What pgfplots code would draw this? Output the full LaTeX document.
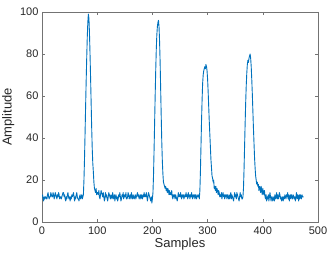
\documentclass[border=0pt]{standalone}
\usepackage{pgfplots}
\pgfplotsset{compat=1.18}
\usepackage{fontspec}
\setmainfont{Liberation Sans}
\definecolor{mblue}{rgb}{0,0.447,0.741}
\definecolor{mtext}{rgb}{0.15,0.15,0.15}
\begin{document}
\begin{tikzpicture}
\begin{axis}[
  scale only axis,
  width=276pt, height=210pt,
  xmin=0, xmax=500, ymin=0, ymax=100,
  xtick={0,100,...,500}, ytick={0,20,...,100},
  tick align=inside,
  major tick length=3pt,
  axis line style={black!55, line width=0.5pt},
  every tick/.style={black!55, line width=0.5pt},
  tick label style={font=\fontsize{11}{13}\selectfont, text=mtext},
  label style={font=\fontsize{13}{15}\selectfont, text=mtext},
  /pgf/number format/assume math mode=true,
  xlabel={Samples}, ylabel={Amplitude},
  xlabel style={yshift=3pt},
  ylabel style={yshift=-1pt},
  xticklabel style={yshift=-1pt},
  clip=true,
]
\addplot[mblue, line width=0.9pt, line join=round] coordinates {
(1,13)(2,11)(3,10)(4,12)(5,11)(6,12)(7,12)(8,11)(9,11)(10,13)
(11,14)(12,12)(13,11)(14,12)(15,12)(16,14)(17,13)(18,12)(19,12)(20,14)
(21,13)(22,11)(23,12)(24,14)(25,13)(26,12)(27,11)(28,13)(29,12)(30,14)
(31,13)(32,11)(33,12)(34,12)(35,11)(36,12)(37,13)(38,14)(39,14)(40,12)
(41,13)(42,11)(43,10)(44,12)(45,11)(46,13)(47,14)(48,12)(49,11)(50,12)
(51,10)(52,12)(53,11)(54,13)(55,12)(56,13)(57,14)(58,12)(59,10)(60,12)
(61,11)(62,13)(63,14)(64,12)(65,11)(66,11)(67,10)(68,12)(69,13)(70,11)
(71,12)(72,13)(73,11)(74,12)(75,13)
(76,20)(77,30)(78,42)(79,55)(80,67)(81,78)(82,88)(83,95)(84,99)(85,97)
(86,90)(87,80)(88,69)(89,57)(90,45)(91,35)(92,28)(93,24)(94,19)(95,16)
(96,15)(97,14)(98,16)(99,13)(100,14)
(101,14)(102,13)(103,15)(104,12)(105,11)(106,13)(107,15)(108,14)(109,13)(110,12)
(111,14)(112,12)(113,10)(114,11)(115,14)(116,12)(117,13)(118,11)(119,10)(120,12)
(121,14)(122,13)(123,12)(124,11)(125,13)(126,12)(127,11)(128,14)(129,12)(130,11)
(131,13)(132,10)(133,12)(134,13)(135,11)(136,12)(137,10)(138,11)(139,13)(140,12)
(141,14)(142,12)(143,10)(144,11)(145,13)(146,12)(147,14)(148,11)(149,13)(150,12)
(151,12)(152,14)(153,11)(154,11)(155,12)(156,14)(157,13)(158,11)(159,12)(160,13)
(161,11)(162,14)(163,12)(164,11)(165,13)(166,12)(167,11)(168,12)(169,13)(170,11)
(171,12)(172,13)(173,14)(174,12)(175,13)(176,11)(177,12)(178,13)(179,11)(180,13)
(181,12)(182,11)(183,13)(184,12)(185,14)(186,12)(187,13)(188,12)(189,14)(190,12)
(191,10)(192,12)(193,14)(194,13)(195,12)(196,11)(197,10)(198,12)(199,9)(200,11)
(201,14)(202,22)(203,34)(204,47)(205,60)(206,72)(207,82)(208,89)(209,93)(210,95)
(211,96)(212,93)(213,86)(214,76)(215,63)(216,50)(217,38)(218,29)(219,23)(220,19)
(221,18)(222,17)(223,16)(224,17)(225,15)(226,16)(227,14)(228,16)(229,15)(230,13)
(231,15)(232,13)(233,14)(234,13)(235,15)(236,12)(237,11)(238,13)(239,12)(240,13)
(241,11)(242,13)(243,12)(244,11)(245,10)(246,12)(247,14)(248,12)(249,13)(250,12)
(251,14)(252,12)(253,11)(254,13)(255,12)(256,13)(257,11)(258,12)(259,13)(260,12)
(261,14)(262,12)(263,13)(264,11)(265,14)(266,12)(267,13)(268,11)(269,13)(270,12)
(271,14)(272,12)(273,11)(274,13)(275,12)(276,13)(277,11)(278,13)(279,12)(280,11)
(281,13)(282,12)(283,12)(284,13)(285,11)
(286,15)(287,24)(288,36)(289,48)(290,58)(291,66)(292,70)(293,72)(294,73)(295,74)
(296,73)(297,75)(298,74)(299,72)(300,68)(301,62)(302,55)(303,48)(304,42)(305,36)
(306,30)(307,26)(308,22)(309,21)(310,19)(311,20)(312,16)(313,17)(314,15)(315,17)
(316,14)(317,16)(318,15)(319,13)(320,15)
(321,14)(322,12)(323,13)(324,12)(325,14)(326,11)(327,13)(328,14)(329,12)(330,13)
(331,11)(332,13)(333,12)(334,13)(335,11)(336,13)(337,12)(338,11)(339,13)(340,11)
(341,12)(342,14)(343,11)(344,13)(345,12)(346,11)(347,10)(348,12)(349,14)(350,12)
(351,13)(352,11)(353,14)(354,13)(355,12)(356,11)(357,10)(358,12)(359,14)(360,12)
(361,13)(362,11)(363,11)(364,12)
(365,16)(366,25)(367,36)(368,47)(369,57)(370,65)(371,71)(372,75)(373,77)(374,76)
(375,78)(376,79)(377,80)(378,78)(379,74)(380,68)(381,61)(382,53)(383,45)(384,38)
(385,31)(386,26)(387,22)(388,20)(389,18)(390,19)(391,17)(392,18)(393,15)(394,17)
(395,16)(396,14)(397,17)(398,15)(399,13)(400,16)
(401,14)(402,13)(403,15)(404,12)(405,11)(406,13)(407,10)(408,12)(409,11)(410,13)
(411,10)(412,12)(413,14)(414,12)(415,10)(416,12)(417,12)(418,10)(419,11)(420,12)
(421,10)(422,13)(423,11)(424,12)(425,14)(426,11)(427,13)(428,11)(429,12)(430,14)
(431,13)(432,11)(433,12)(434,10)(435,11)(436,12)(437,10)(438,12)(439,11)(440,13)
(441,12)(442,11)(443,13)(444,12)(445,14)(446,11)(447,13)(448,10)(449,12)(450,13)
(451,11)(452,13)(453,12)(454,11)(455,13)(456,12)(457,11)(458,12)(459,10)(460,12)
(461,14)(462,11)(463,13)(464,12)(465,10)(466,13)(467,11)(468,13)(469,12)(470,11)
(471,13)(472,12)(473,12)(474,12)
};
\coordinate (sw) at (rel axis cs:0,0);
\coordinate (ne) at (rel axis cs:1,1);
\end{axis}
\pgfresetboundingbox
\path ([shift={(-42pt,-37pt)}]sw) rectangle ([shift={(14pt,12pt)}]ne);
\end{tikzpicture}
\end{document}
